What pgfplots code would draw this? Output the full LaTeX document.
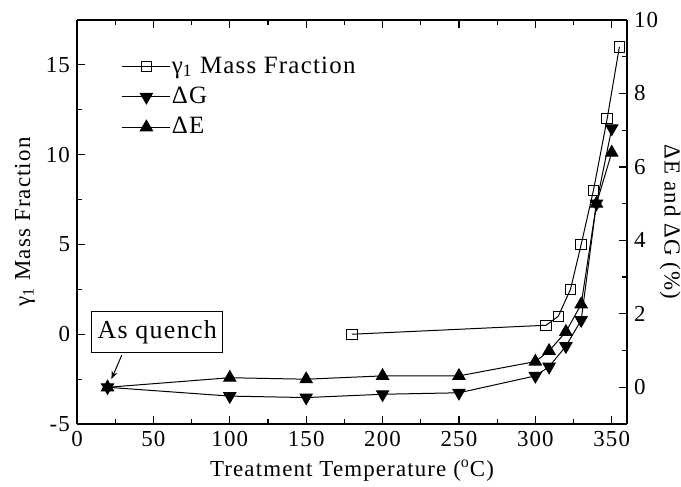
\documentclass[border=0pt]{standalone}
\usepackage{fontspec}
\setmainfont{Liberation Serif}[LetterSpace=5]
\usepackage{pgfplots}
\pgfplotsset{compat=1.18}
\usetikzlibrary{arrows.meta}
\begin{document}
\begin{tikzpicture}
\pgfplotsset{
  every axis/.append style={
    scale only axis, width=275bp, height=202bp,
    xmin=0, xmax=360,
    axis line style={line width=0.9pt},
    tick style={black, line width=0.6pt},
    major tick length=4bp, minor tick length=2.3bp,
    tick align=inside,
    /pgf/number format/assume math mode=true,
    tick label style={font=\fontsize{11.5}{13}\selectfont},
    label style={font=\fontsize{11.5}{13}\selectfont},
  },
  mylegend/.style={legend image code/.code={\draw[mark repeat=2,mark phase=2,##1] plot coordinates {(0bp,0bp) (12bp,0bp) (24bp,0bp)};}},
}
\begin{axis}[
  name=main,
  axis y line*=left,
  ymin=-5, ymax=17.5,
  ytick={-5,0,5,10,15}, minor y tick num=1,
  xtick={0,50,...,350}, minor x tick num=1,
  xlabel={Treatment Temperature (\textsuperscript{o}C)},
  ylabel={γ\textsubscript{1} Mass Fraction},
  ylabel style={at={([xshift=-26bp]rel axis cs:0,0.5)}, anchor=center},
  legend style={draw=none, fill=none, at={(0.07,0.93)}, anchor=north west,
    font=\fontsize{12.5}{14}\selectfont, row sep=1.5bp, column sep=0pt,
    nodes={inner xsep=0.5bp}},
  legend cell align=left,
]
\addplot[mylegend, black, line width=0.5pt, mark=square, mark size=2.6bp, mark options={fill=white, solid}] coordinates {
(180,0) (307,0.5) (315,1.0) (323,2.5) (330,5.0) (338,8.0) (347,12.0) (355,16.0)
};
\addlegendentry{γ\textsubscript{1} Mass Fraction}
\addlegendimage{mylegend, black, line width=0.5pt, mark=triangle*, mark size=3.5bp, mark options={rotate=180}}
\addlegendentry{ΔG}
\addlegendimage{mylegend, black, line width=0.5pt, mark=triangle*, mark size=3.5bp}
\addlegendentry{ΔE}
\node[draw, line width=0.5pt, fill=white, font=\fontsize{13}{14}\selectfont, inner sep=3bp, minimum height=20.5bp] at (axis cs:52.5,0.1) {As quench};
\draw[line width=0.5pt, -{Stealth[length=4bp,width=3bp]}] (axis cs:29.3,-1.17) -- (axis cs:22.5,-2.5);
\end{axis}
\begin{axis}[
  axis y line*=right, axis x line=none,
  ymin=-1, ymax=10,
  ytick={0,2,...,10}, minor y tick num=1,
  ylabel={ΔE and ΔG (\%)},
  ylabel style={rotate=180, at={([xshift=21.5bp]rel axis cs:1,0.5)}, anchor=center},
]
\addplot[black, line width=0.5pt, mark=triangle*, mark size=3.5bp, mark options={rotate=180}] coordinates {
(20,0) (100,-0.24) (150,-0.28) (200,-0.19) (250,-0.15) (300,0.31) (309,0.56) (320,1.12) (330,1.83) (340,5.0) (350,7.05)
};
\addplot[black, line width=0.5pt, mark=triangle*, mark size=3.5bp] coordinates {
(20,0) (100,0.26) (150,0.22) (200,0.31) (250,0.31) (300,0.70) (309,0.99) (320,1.51) (330,2.26) (340,5.0) (350,6.39)
};
\end{axis}
\pgfresetboundingbox
\path[use as bounding box] ([shift={(-38.5bp,-31bp)}]main.south west) rectangle ([shift={(27bp,10bp)}]main.north east);
\end{tikzpicture}
\end{document}
